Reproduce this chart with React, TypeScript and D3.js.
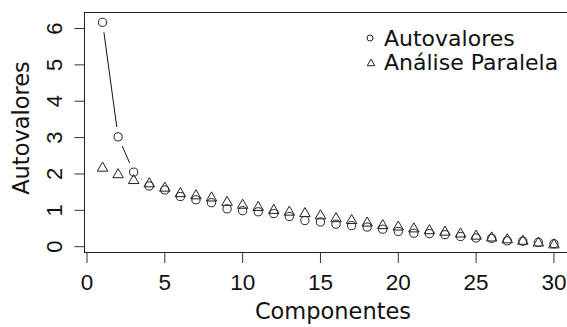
import React from 'react';
import * as d3 from 'd3';

// eigenvalues
const componentes = d3.range(1, 31);
const autovalores = [6.17, 3.02, 2.05, 1.67, 1.56, 1.38, 1.29, 1.21, 1.04, 0.99, 0.96, 0.91, 0.83, 0.72, 0.68,
  0.62, 0.58, 0.54, 0.48, 0.42, 0.37, 0.36, 0.33, 0.28, 0.24, 0.23, 0.16, 0.15, 0.12, 0.08];
const paralela = [2.16, 1.98, 1.82, 1.73, 1.61, 1.46, 1.40, 1.34, 1.22, 1.14, 1.08, 1.00, 0.95, 0.91, 0.85,
  0.77, 0.72, 0.65, 0.58, 0.54, 0.49, 0.44, 0.40, 0.35, 0.29, 0.24, 0.19, 0.15, 0.10, 0.05];
const xTicks = [0, 5, 10, 15, 20, 25, 30];
const yTicks = [0, 1, 2, 3, 4, 5, 6];
const legendLabels = ['Autovalores', 'Análise Paralela'];

const W = 567;
const H = 327;
const digitFont = '"Liberation Sans", Arial, sans-serif';
const textFont = '"DejaVu Sans", sans-serif';

// R-like triangle (pch = 2)
function triangle(cx: number, cy: number, r: number) {
  const top = 1.5551 * r, half = 1.3468 * r, bot = 0.7776 * r;
  return `M${cx},${cy - top}L${cx + half},${cy + bot}L${cx - half},${cy + bot}Z`;
}

export default function App() {
  const x = d3.scaleLinear().domain([-0.16, 31.16]).range([84.5, 572]);
  const y = d3.scaleLinear().domain([-0.16, 6.44]).range([252.5, 12.5]);
  const r = 4.1;
  const gap = 10;

  // type = "b" segments: lines with gaps around the points
  const segs: { x1: number; y1: number; x2: number; y2: number }[] = [];
  for (let i = 0; i < componentes.length - 1; i++) {
    const ax = x(componentes[i]), ay = y(autovalores[i]);
    const bx = x(componentes[i + 1]), by = y(autovalores[i + 1]);
    const dx = bx - ax, dy = by - ay;
    const len = Math.sqrt(dx * dx + dy * dy);
    if (len > 2 * gap) {
      const ux = dx / len, uy = dy / len;
      segs.push({ x1: ax + ux * gap, y1: ay + uy * gap, x2: bx - ux * gap, y2: by - uy * gap });
    }
  }

  const [x0, x1] = x.range();
  const [yb, yt] = y.range();

  return (
    <svg width={W} height={H} style={{ position: 'absolute', left: 0, top: 0, background: 'white' }}>
      {/* box */}
      <rect x={x0} y={yt} width={x1 - x0} height={yb - yt} fill="none" stroke="#222" strokeWidth={1} />

      {/* x axis */}
      {xTicks.map(t => (
        <g key={'xt' + t}>
          <line x1={x(t)} x2={x(t)} y1={yb} y2={yb + 10.5} stroke="#333" />
          <text x={x(t)} y={290} textAnchor="middle" fontFamily={digitFont} fontSize={22.5} fill="#111">{t}</text>
        </g>
      ))}
      <text x={333} y={318.5} textAnchor="middle" fontFamily={textFont} fontSize={22.5} fill="#111">Componentes</text>

      {/* y axis */}
      {yTicks.map(t => (
        <g key={'yt' + t}>
          <line x1={x0} x2={x0 - 10} y1={y(t)} y2={y(t)} stroke="#333" />
          <text transform={`translate(62,${y(t)}) rotate(-90)`} textAnchor="middle"
            fontFamily={digitFont} fontSize={22} fill="#111">{t}</text>
        </g>
      ))}
      <text transform={`translate(28.5,128) rotate(-90)`} textAnchor="middle"
        fontFamily={textFont} fontSize={22.5} fill="#111">Autovalores</text>

      {/* series */}
      {segs.map((s, i) => (
        <line key={'s' + i} x1={s.x1} y1={s.y1} x2={s.x2} y2={s.y2} stroke="#111" strokeWidth={1} />
      ))}
      {componentes.map((c, i) => (
        <circle key={'c' + c} cx={x(c)} cy={y(autovalores[i])} r={r} fill="none" stroke="#222" strokeWidth={1} />
      ))}
      {componentes.map((c, i) => (
        <path key={'p' + c} d={triangle(x(c), y(paralela[i]), 3.9)} fill="none" stroke="#222" strokeWidth={1} />
      ))}

      {/* legend */}
      <circle cx={370} cy={38} r={3} fill="none" stroke="#222" />
      <text x={384} y={45.5} fontFamily={textFont} fontSize={22} fill="#111">{legendLabels[0]}</text>
      <path d={triangle(371, 63.5, 2.8)} fill="none" stroke="#222" />
      <text x={384} y={70} fontFamily={textFont} fontSize={22} fill="#111">{legendLabels[1]}</text>
    </svg>
  );
}
